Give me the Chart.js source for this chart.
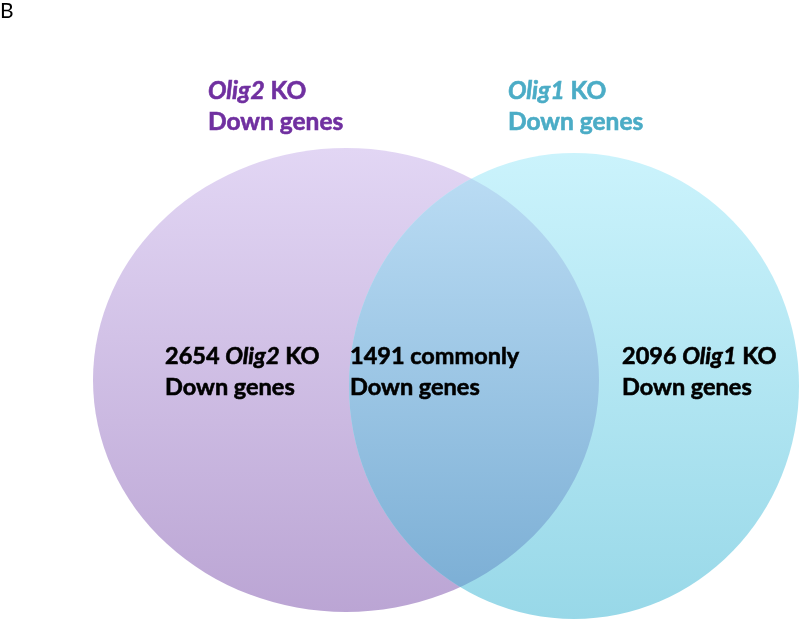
<!DOCTYPE html>
<html>
<head>
<meta charset="utf-8">
<script src="https://cdn.jsdelivr.net/npm/chart.js@4.4.1/dist/chart.umd.min.js"></script>
<style>
    html, body { margin: 0; background: #fff; }
</style>
</head>
<body>
<canvas id="venn" width="800" height="619"></canvas>
<script>
// data
const setGenes = ['Olig2', 'Olig1'];
const setTitleColors = ['#7030a0', '#4bacc6'];
const regionCounts = [2654, 1491, 2096];
const regionWords = ['KO', 'commonly', 'KO'];

// layout, in axis units (x 0..800, y 0..619 top-down)
const ellipses = [
    { cx: 346, cy: 380, rx: 253, ry: 232, top: '#e2d6f4', bottom: '#bba5d4' },
    { cx: 574, cy: 386, rx: 225, ry: 233, top: '#cbf3fc', bottom: '#98d8e8' }
];
const overlapColors = ['#bddef5', '#78acd3'];
const titleAnchors = [[208, 91], [508, 91]];
const regionAnchors = [[165, 356], [350, 356], [622, 356]];
const FONT = 'Lato, "Open Sans", sans-serif';

function drawRuns(ctx, runs, x, y, size, color) {
    ctx.fillStyle = color;
    ctx.strokeStyle = color;
    ctx.lineWidth = 0.6;
    ctx.textBaseline = 'middle';
    ctx.textAlign = 'left';
    runs.forEach(([txt, italic]) => {
        ctx.font = `${italic ? 'italic ' : ''}bold ${size}px ${FONT}`;
        ctx.fillText(txt, x, y);
        ctx.strokeText(txt, x, y);
        x += ctx.measureText(txt).width;
    });
}

const vennPlugin = {
    id: 'venn',
    beforeDatasetsDraw(chart) {
        const { ctx, scales: { x, y } } = chart;
        const path = e => {
            ctx.beginPath();
            ctx.ellipse(x.getPixelForValue(e.cx), y.getPixelForValue(e.cy),
                Math.abs(x.getPixelForValue(e.cx + e.rx) - x.getPixelForValue(e.cx)),
                Math.abs(y.getPixelForValue(e.cy + e.ry) - y.getPixelForValue(e.cy)),
                0, 0, Math.PI * 2);
        };
        const grad = (e, c0, c1) => {
            const g = ctx.createLinearGradient(0, y.getPixelForValue(e.cy - e.ry), 0, y.getPixelForValue(e.cy + e.ry));
            g.addColorStop(0, c0);
            g.addColorStop(1, c1);
            return g;
        };
        ctx.save();
        ellipses.forEach(e => {
            path(e);
            ctx.fillStyle = grad(e, e.top, e.bottom);
            ctx.fill();
        });
        path(ellipses[0]);
        ctx.clip();
        path(ellipses[1]);
        ctx.fillStyle = grad(ellipses[1], overlapColors[0], overlapColors[1]);
        ctx.fill();
        ctx.restore();
    },
    afterDatasetsDraw(chart) {
        const { ctx, scales: { x, y } } = chart;
        const lineGap = 31;
        ctx.save();
        // panel letter
        ctx.fillStyle = '#000';
        ctx.font = `21px ${FONT}`;
        ctx.textBaseline = 'middle';
        ctx.fillText('B', x.getPixelForValue(0), y.getPixelForValue(11));

        setGenes.forEach((g, i) => {
            const [ax, ay] = titleAnchors[i];
            const px = x.getPixelForValue(ax), py = y.getPixelForValue(ay);
            drawRuns(ctx, [[g, true], [' KO', false]], px, py, 24.5, setTitleColors[i]);
            drawRuns(ctx, [['Down genes', false]], px, py + lineGap, 24.5, setTitleColors[i]);
        });

        regionCounts.forEach((n, i) => {
            const [ax, ay] = regionAnchors[i];
            const px = x.getPixelForValue(ax), py = y.getPixelForValue(ay);
            const first = i === 1
                ? [[`${n} ${regionWords[i]}`, false]]
                : [[`${n} `, false], [setGenes[i === 0 ? 0 : 1], true], [` ${regionWords[i]}`, false]];
            drawRuns(ctx, first, px, py, 23.5, '#000');
            drawRuns(ctx, [['Down genes', false]], px, py + lineGap, 23.5, '#000');
        });
        ctx.restore();
    }
};

new Chart(document.getElementById('venn'), {
    type: 'scatter',
    data: { datasets: [{ data: [], pointRadius: 0 }] },
    options: {
        responsive: false,
        animation: false,
        layout: { padding: 0 },
        plugins: { legend: { display: false }, tooltip: { enabled: false } },
        scales: {
            x: { type: 'linear', min: 0, max: 800, display: false },
            y: { type: 'linear', min: 0, max: 619, reverse: true, display: false }
        }
    },
    plugins: [vennPlugin]
});
</script>
</body>
</html>
